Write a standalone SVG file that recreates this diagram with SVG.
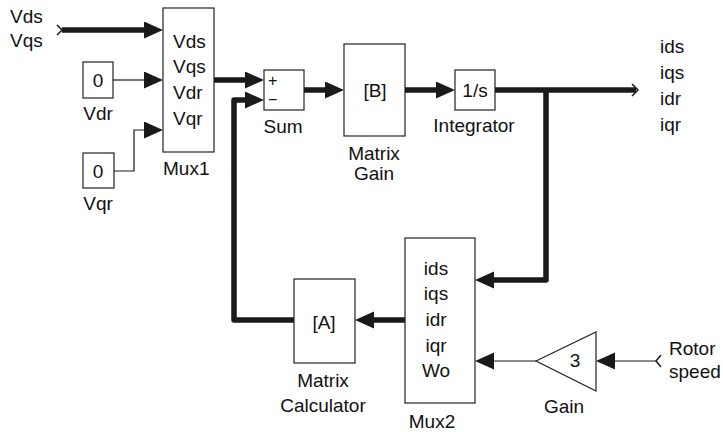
<svg xmlns="http://www.w3.org/2000/svg" width="723" height="432" viewBox="0 0 723 432">
<defs>
<style>
text{font-family:"Liberation Sans",Arial,sans-serif;font-size:19px;fill:#111}
.mid{text-anchor:middle}
.blk{fill:#fff;stroke:#222;stroke-width:1.2}
.thick{fill:none;stroke:#1a1a1a;stroke-width:5.5;stroke-linejoin:round}
.thin{fill:none;stroke:#1a1a1a;stroke-width:1.2}
.chev{fill:none;stroke:#1a1a1a;stroke-width:1.5}
.sm{font-size:16px}
</style>
<marker id="ah" markerUnits="userSpaceOnUse" markerWidth="20" markerHeight="18" refX="0" refY="8.5" orient="auto" viewBox="0 0 20 18">
<path d="M0,0 L19,8.5 L0,17 z" fill="#1a1a1a"/>
</marker>
</defs>

<g id="in-vds-vqs">
<text x="10" y="23">Vds</text>
<text x="10" y="47">Vqs</text>
<polyline class="chev" points="57,25 62,30 57,35"/>
</g>

<g id="const-vdr">
<rect class="blk" x="83" y="62" width="30" height="36"/>
<text class="mid" x="98" y="87">0</text>
<text class="mid" x="98" y="120">Vdr</text>
</g>

<g id="const-vqr">
<rect class="blk" x="83" y="153" width="31" height="35"/>
<text class="mid" x="98" y="178">0</text>
<text class="mid" x="98" y="210">Vqr</text>
</g>

<g id="mux1">
<rect class="blk" x="163" y="8" width="51" height="144"/>
<text x="173" y="48">Vds</text>
<text x="173" y="73">Vqs</text>
<text x="173" y="99">Vdr</text>
<text x="173" y="125">Vqr</text>
<text x="163" y="175">Mux1</text>
</g>

<g id="sum">
<rect class="blk" x="264" y="70" width="40" height="40"/>
<text class="sm" x="268" y="86">+</text>
<text class="sm" x="268" y="105">&#8722;</text>
<text class="mid" x="283" y="133">Sum</text>
</g>

<g id="matrix-gain">
<rect class="blk" x="344" y="44" width="61" height="92"/>
<text class="mid" x="375" y="97">[B]</text>
<text class="mid" x="374" y="160">Matrix</text>
<text class="mid" x="374" y="180">Gain</text>
</g>

<g id="integrator">
<rect class="blk" x="455" y="70" width="40" height="40"/>
<text class="mid" x="475" y="97">1/s</text>
<text class="mid" x="474" y="132">Integrator</text>
</g>

<g id="out-currents">
<text x="660" y="53">ids</text>
<text x="660" y="79">iqs</text>
<text x="660" y="105">idr</text>
<text x="660" y="131">iqr</text>
<polyline class="chev" points="632,84 638,90 632,96"/>
</g>

<g id="mux2">
<rect class="blk" x="405" y="238" width="70" height="165"/>
<text class="mid" x="436" y="275">ids</text>
<text class="mid" x="436" y="300">iqs</text>
<text class="mid" x="436" y="326">idr</text>
<text class="mid" x="436" y="352">iqr</text>
<text class="mid" x="436" y="377">Wo</text>
<text class="mid" x="432" y="428">Mux2</text>
</g>

<g id="matrix-calculator">
<rect class="blk" x="294" y="279" width="61" height="84"/>
<text class="mid" x="324" y="329">[A]</text>
<text class="mid" x="323" y="387">Matrix</text>
<text class="mid" x="323" y="412">Calculator</text>
</g>

<g id="gain">
<polygon class="blk" points="536,361 596,332 596,391"/>
<text class="mid" x="575" y="367">3</text>
<text class="mid" x="564" y="413">Gain</text>
</g>

<g id="in-rotor-speed">
<text x="669" y="355">Rotor</text>
<text x="669" y="378">speed</text>
<polyline class="chev" points="661,355 656,361 661,367"/>
</g>

<g id="connectors">
<line class="thick" x1="62" y1="30" x2="144" y2="30" marker-end="url(#ah)"/>
<line class="thin" x1="113" y1="80" x2="144" y2="80" marker-end="url(#ah)"/>
<polyline class="thin" points="114,171 134,171 134,130 144,130" marker-end="url(#ah)"/>
<line class="thick" x1="214" y1="80" x2="245" y2="80" marker-end="url(#ah)"/>
<line class="thick" x1="304" y1="90" x2="325" y2="90" marker-end="url(#ah)"/>
<line class="thick" x1="405" y1="90" x2="436" y2="90" marker-end="url(#ah)"/>
<line class="thick" x1="495" y1="90" x2="636" y2="90"/>
<polyline class="thick" points="546,90 546,280 494,280" marker-end="url(#ah)"/>
<line class="thick" x1="405" y1="320" x2="374" y2="320" marker-end="url(#ah)"/>
<polyline class="thick" points="294,320 234,320 234,100 245,100" marker-end="url(#ah)"/>
<line class="thin" x1="536" y1="361" x2="494" y2="361" marker-end="url(#ah)"/>
<line class="thin" x1="656" y1="361" x2="615" y2="361" marker-end="url(#ah)"/>
</g>
</svg>
